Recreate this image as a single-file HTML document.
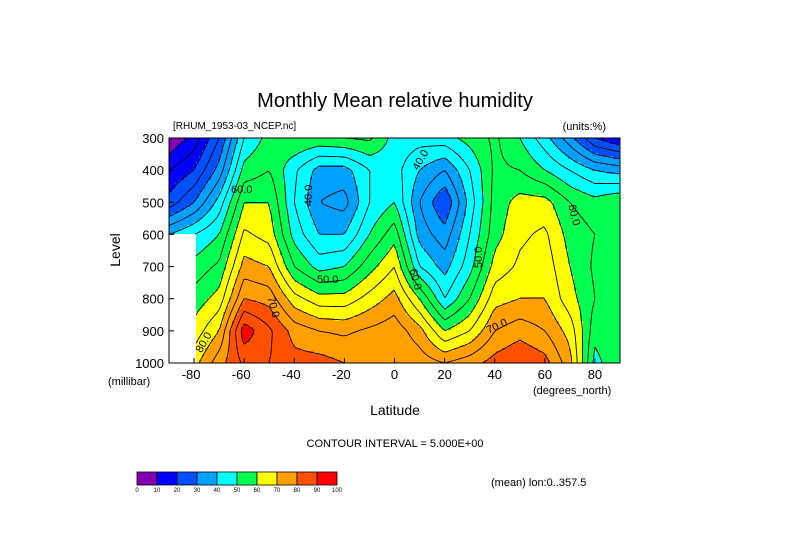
<!DOCTYPE html>
<html><head><meta charset="utf-8"><style>
body{margin:0;background:#fff}
svg{display:block}
text{font-family:"Liberation Sans",sans-serif;fill:#000}
</style></head><body>
<svg id="chart" width="789" height="558" viewBox="0 0 789 558">
<rect width="789" height="558" fill="#fff"/>
<text x="395" y="107" font-size="20" text-anchor="middle">Monthly Mean relative humidity</text>
<text x="173" y="129" font-size="10">[RHUM_1953-03_NCEP.nc]</text>
<text x="606" y="130" font-size="11" text-anchor="end">(units:%)</text>
<g id="plot"></g>
<g id="lines"></g>
<g id="axes"></g>
<text x="200" y="345" font-size="11" transform="rotate(-60 208 348)">80.0</text>
<text x="231" y="193" font-size="11">60.0</text>
<text x="302" y="204" font-size="11" transform="rotate(-90 308 200)">40.0</text>
<text x="317" y="283" font-size="11">50.0</text>
<text x="267" y="302" font-size="11" transform="rotate(75 270 300)">70.0</text>
<text x="413" y="168" font-size="11" transform="rotate(-60 418 165)">40.0</text>
<text x="476" y="262" font-size="11" transform="rotate(-90 482 262)">50.0</text>
<text x="400" y="278" font-size="11" transform="rotate(75 410 280)">60.0</text>
<text x="486" y="330" font-size="11" transform="rotate(-25 496 326)">70.0</text>
<text x="560" y="210" font-size="11" transform="rotate(75 567 213)">60.0</text>
<text x="120" y="250" font-size="14" transform="rotate(-90 120 250)" text-anchor="middle">Level</text>
<text x="108" y="385" font-size="11">(millibar)</text>
<text x="395" y="415" font-size="14" text-anchor="middle">Latitude</text>
<text x="533" y="394" font-size="11">(degrees_north)</text>
<text x="395" y="447" font-size="11" text-anchor="middle">CONTOUR INTERVAL = 5.000E+00</text>
<text x="491" y="486" font-size="11">(mean) lon:0..357.5</text>
<g id="cbar"></g>
</svg>
<script>
const lats=[-90,-80,-70,-60,-50,-40,-30,-20,-10,0,10,20,30,40,50,60,70,80,90];
const levels=[300,400,500,600,700,800,900,1000];
// rh[latIndex] = values at levels 300..1000
const rh=[
[5,15,22,40,null,null,null,null],
[12,20,30,45,52,57,62,68],
[25,32,42,50,56,62,70,78],
[45,52,60,66,72,80,93,86],
[52,55,60,63,70,78,86,85],
[55,46,45,48,55,67,78,82],
[54,38,35,40,48,62,75,82],
[55,38,33,40,50,62,74,80],
[56,45,45,50,58,67,76,80],
[48,47,50,58,65,72,78,80],
[47,40,35,38,45,60,72,78],
[48,35,25,32,38,45,60,75],
[52,45,42,45,48,55,65,78],
[56,56,57,58,62,68,75,82],
[50,55,62,64,66,70,78,85],
[42,50,62,66,68,70,75,82],
[32,45,55,58,60,62,68,72],
[20,40,52,55,54,55,52,48],
[15,38,55,55,55,55,55,55]
];
const bandColors=["#8000b0","#0000ff","#0050ff","#00a0ff","#00ffff","#00ff50","#ffff00","#ffa000","#ff5000","#ff0000"];
const cbarTicks=["0","10","20","30","40","50","60","70","80","90","100"];
const contourLevels=[10,15,20,25,30,35,40,45,50,55,60,65,70,75,80,85,90,95];
const yTicks=[300,400,500,600,700,800,900,1000];
const xTicks=[-80,-60,-40,-20,0,20,40,60,80];

const X0=169,X1=620,Y0=138,Y1=363;
const xs=lat=>X0+(lat+90)/180*(X1-X0);
const ys=p=>Y0+(p-300)/700*(Y1-Y0);
const NS="http://www.w3.org/2000/svg";
function mk(t,a){const e=document.createElementNS(NS,t);for(const k in a)e.setAttribute(k,a[k]);return e;}
function val(x,y){
  let fi=(x-X0)/(X1-X0)*(lats.length-1), fj=(y-Y0)/(Y1-Y0)*(levels.length-1);
  fi=Math.max(0,Math.min(lats.length-1.0001,fi)); fj=Math.max(0,Math.min(levels.length-1.0001,fj));
  const i=Math.floor(fi),j=Math.floor(fj),a=fi-i,b=fj-j;
  const v00=rh[i][j],v10=rh[i+1][j],v01=rh[i][j+1],v11=rh[i+1][j+1];
  if(v00==null||v10==null||v01==null||v11==null)return null;
  return v00*(1-a)*(1-b)+v10*a*(1-b)+v01*(1-a)*b+v11*a*b;
}
const S=3,NX=Math.round((X1-X0)/S),NY=Math.round((Y1-Y0)/S);
const G=[];
for(let i=0;i<=NX;i++){G[i]=[];for(let j=0;j<=NY;j++)G[i][j]=val(X0+i*S,Y0+j*S);}
const plot=document.getElementById('plot');
for(let i=0;i<NX;i++)for(let j=0;j<NY;j++){
  const c=[G[i][j],G[i+1][j],G[i][j+1],G[i+1][j+1]];
  let fill="#fff";
  if(c.every(v=>v!=null)){const m=(c[0]+c[1]+c[2]+c[3])/4;fill=bandColors[Math.max(0,Math.min(9,Math.floor(m/10)))];}
  const r=mk('rect',{x:X0+i*S,y:Y0+j*S,width:S+0.4,height:S+0.4,fill:fill});
  
  
  plot.appendChild(r);
}
const lines=document.getElementById('lines');
contourLevels.forEach(L=>{
  let d="";
  for(let i=0;i<NX;i++)for(let j=0;j<NY;j++){
    const a=G[i][j],b=G[i+1][j],c=G[i+1][j+1],e=G[i][j+1];
    if(a==null||b==null||c==null||e==null)continue;
    const x=X0+i*S,y=Y0+j*S,pts=[];
    const ed=(v1,v2,x1,y1,x2,y2)=>{if((v1<L)!==(v2<L)){const t=(L-v1)/(v2-v1);pts.push([x1+(x2-x1)*t,y1+(y2-y1)*t]);}};
    ed(a,b,x,y,x+S,y);ed(b,c,x+S,y,x+S,y+S);ed(c,e,x+S,y+S,x,y+S);ed(e,a,x,y+S,x,y);
    for(let k=0;k+1<pts.length;k+=2)d+=`M${pts[k][0].toFixed(1)} ${pts[k][1].toFixed(1)}L${pts[k+1][0].toFixed(1)} ${pts[k+1][1].toFixed(1)}`;
  }
  const p=mk('path',{d:d,stroke:"#000","stroke-width":"0.9",fill:"none"});
  
  
  lines.appendChild(p);
});
const ax=document.getElementById('axes');
const frame=mk('rect',{x:X0,y:Y0,width:X1-X0,height:Y1-Y0,fill:"none",stroke:"#000","stroke-width":"1"});


ax.appendChild(frame);
yTicks.forEach(p=>{
  const t=mk('text',{x:164,y:ys(p)+5,"font-size":"13","text-anchor":"end"});t.textContent=p;
  
  
  ax.appendChild(t);
  const l=mk('line',{x1:X0,x2:X0+5,y1:ys(p),y2:ys(p),stroke:"#000"});
  
  
  ax.appendChild(l);
});
xTicks.forEach(v=>{
  const t=mk('text',{x:xs(v)+(v<0?-3:0),y:379,"font-size":"13","text-anchor":"middle"});t.textContent=v;
  
  
  ax.appendChild(t);
  const l=mk('line',{x1:xs(v),x2:xs(v),y1:Y1,y2:Y1-5,stroke:"#000"});
  
  
  ax.appendChild(l);
});
const cb=document.getElementById('cbar');
const CX=137,CW=20,CY=472,CH=13;
bandColors.forEach((col,k)=>{
  const r=mk('rect',{x:CX+k*CW,y:CY,width:CW,height:CH,fill:col,stroke:"#000","stroke-width":"0.8"});
  
  
  cb.appendChild(r);
});
cbarTicks.forEach((s,k)=>{
  const t=mk('text',{x:CX+k*CW,y:CY+CH+7,"font-size":"6","text-anchor":"middle"});t.textContent=s;
  
  
  cb.appendChild(t);
});
</script>
</body></html>
